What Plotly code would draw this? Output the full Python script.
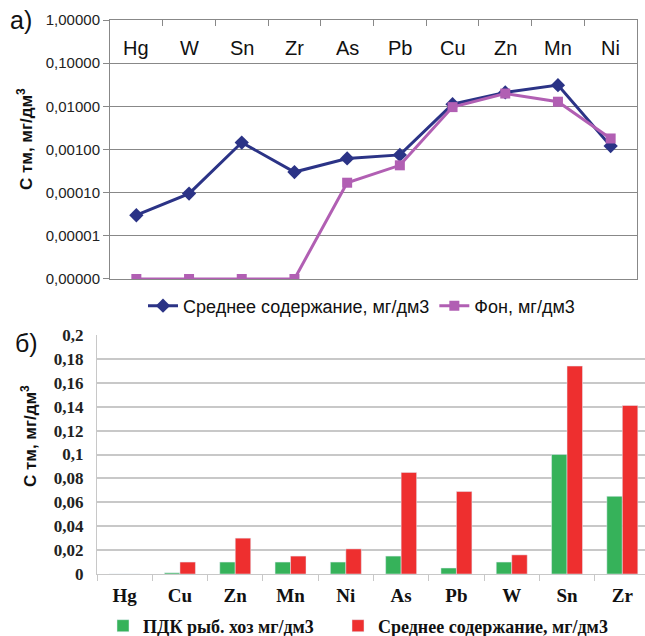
import plotly.graph_objects as go

# ---- chart a) data (log scale) ----
cats_a = ["Hg", "W", "Sn", "Zr", "As", "Pb", "Cu", "Zn", "Mn", "Ni"]
mean_a = [0.00003, 0.000095, 0.00145, 0.0003, 0.00062, 0.00075, 0.0112, 0.021, 0.031, 0.0012]
# background ("Фон"); zeros shown on the 0,00000 (1e-6) line of the log axis
fon_a = [0.000001, 0.000001, 0.000001, 0.000001, 0.00017, 0.00043, 0.0096, 0.0198, 0.0128, 0.0018]
ytick_vals_a = [1, 0.1, 0.01, 0.001, 0.0001, 0.00001, 0.000001]
ytick_text_a = ["1,00000", "0,10000", "0,01000", "0,00100", "0,00010", "0,00001", "0,00000"]

# ---- chart б) data ----
cats_b = ["Hg", "Cu", "Zn", "Mn", "Ni", "As", "Pb", "W", "Sn", "Zr"]
pdk_b = [0, 0.001, 0.01, 0.01, 0.01, 0.015, 0.005, 0.01, 0.1, 0.065]
mean_b = [0, 0.01, 0.03, 0.015, 0.021, 0.085, 0.069, 0.016, 0.174, 0.141]

W, H = 645, 636
def px_x(v): return v / W
def px_y(v): return 1 - v / H

BLUE = "#2b3386"
PINK = "#b15fb3"
GREEN = "#36b25a"
RED = "#ee2f2f"
SANS = "Liberation Sans, Arial, sans-serif"
SERIF = "Liberation Serif, Times New Roman, serif"

fig = go.Figure()

fig.add_trace(go.Scatter(
    x=cats_a, y=mean_a, name="Среднее содержание, мг/дм3", mode="lines+markers",
    line=dict(color=BLUE, width=3), marker=dict(symbol="diamond", size=11, color=BLUE),
    xaxis="x", yaxis="y", legend="legend"))
fig.add_trace(go.Scatter(
    x=cats_a, y=fon_a, name="Фон, мг/дм3", mode="lines+markers",
    line=dict(color=PINK, width=3), marker=dict(symbol="square", size=10, color=PINK),
    xaxis="x", yaxis="y", legend="legend"))

fig.add_trace(go.Bar(
    x=cats_b, y=pdk_b, name="ПДК рыб. хоз мг/дм3", marker=dict(color=GREEN),
    xaxis="x2", yaxis="y2", legend="legend2"))
fig.add_trace(go.Bar(
    x=cats_b, y=mean_b, name="Среднее содержание, мг/дм3", marker=dict(color=RED),
    xaxis="x2", yaxis="y2", legend="legend3"))

GRID_A = "#888888"
GRID_B = "#c8c8c8"

# category labels of chart a), drawn inside the plot under the top axis line
cat_labels_a = [dict(text=c, x=c, y=px_y(48), xref="x", yref="paper",
                     xanchor="center", yanchor="middle", showarrow=False,
                     font=dict(family=SANS, size=20, color="#111"))
                for c in cats_a]

legend_b_style = dict(
    orientation="h", xanchor="left", y=px_y(626), yanchor="middle",
    font=dict(family=SERIF, size=18, color="#111", weight="bold"),
    bgcolor="rgba(0,0,0,0)", itemwidth=30, tracegroupgap=0)

fig.update_layout(
    width=W, height=H, autosize=False,
    margin=dict(l=0, r=0, t=0, b=0, autoexpand=False),
    paper_bgcolor="white", plot_bgcolor="white",
    separators=", ",
    showlegend=True,
    barmode="group", bargap=0.44, bargroupgap=0,
    xaxis=dict(
        domain=[px_x(110), px_x(637)], anchor="y", side="top",
        type="category", range=[-0.5, 9.5], automargin=False,
        tickson="boundaries", ticks="inside", ticklen=6, tickcolor=GRID_A,
        showticklabels=False,
        showline=True, linecolor=GRID_A, linewidth=1, mirror=True,
        showgrid=False, zeroline=False),
    yaxis=dict(
        domain=[px_y(279), px_y(20)], anchor="x", automargin=False,
        type="log", range=[-6.0005, 0.0005],
        tickvals=ytick_vals_a, ticktext=ytick_text_a,
        ticks="outside", ticklen=6, tickcolor=GRID_A,
        tickfont=dict(family=SANS, size=15, color="#222"),
        showline=True, linecolor=GRID_A, linewidth=1, mirror=True,
        showgrid=True, gridcolor=GRID_A, gridwidth=1.2, zeroline=False),
    xaxis2=dict(
        domain=[px_x(97), 1.0], anchor="y2", automargin=False,
        type="category", range=[-0.5, 9.41],
        tickson="boundaries", ticks="outside", ticklen=6, tickcolor=GRID_B,
        ticklabelstandoff=4,
        tickfont=dict(family=SERIF, size=19, color="#111", weight="bold"),
        showline=True, linecolor=GRID_B, linewidth=1,
        showgrid=False, zeroline=False),
    yaxis2=dict(
        domain=[px_y(574), px_y(335)], anchor="x2", automargin=False,
        range=[0, 0.2], dtick=0.02, tick0=0,
        ticks="", ticklabelstandoff=9,
        tickfont=dict(family=SERIF, size=17, color="#222", weight="bold"),
        showline=True, linecolor=GRID_B, linewidth=1,
        showgrid=True, gridcolor=GRID_B, gridwidth=1.5, zeroline=False),
    legend=dict(
        orientation="h", x=px_x(143), xanchor="left", y=px_y(306), yanchor="middle",
        font=dict(family=SANS, size=18, color="#111"), bgcolor="rgba(0,0,0,0)",
        itemwidth=30, tracegroupgap=0),
    legend2=dict(x=px_x(103), **legend_b_style),
    legend3=dict(x=px_x(338), **legend_b_style),
    annotations=cat_labels_a + [
        dict(text="а)", x=px_x(8), y=px_y(20), xref="paper", yref="paper",
             xanchor="left", yanchor="middle", showarrow=False,
             font=dict(family=SANS, size=25, color="#111")),
        dict(text="б)", x=px_x(13), y=px_y(343), xref="paper", yref="paper",
             xanchor="left", yanchor="middle", showarrow=False,
             font=dict(family=SANS, size=25, color="#111")),
        dict(text="<b>С тм, мг/дм<sup>3</sup></b>", x=px_x(25), y=px_y(139),
             xref="paper", yref="paper", xanchor="center", yanchor="middle",
             textangle=-90, showarrow=False,
             font=dict(family=SANS, size=17, color="#111")),
        dict(text="<b>С тм, мг/дм<sup>3</sup></b>", x=px_x(29), y=px_y(436),
             xref="paper", yref="paper", xanchor="center", yanchor="middle",
             textangle=-90, showarrow=False,
             font=dict(family=SANS, size=17, color="#111")),
    ],
)

fig.write_html("out.html", config={"displayModeBar": False},
               post_script="document.body.style.margin='0';document.body.style.overflow='hidden';")
